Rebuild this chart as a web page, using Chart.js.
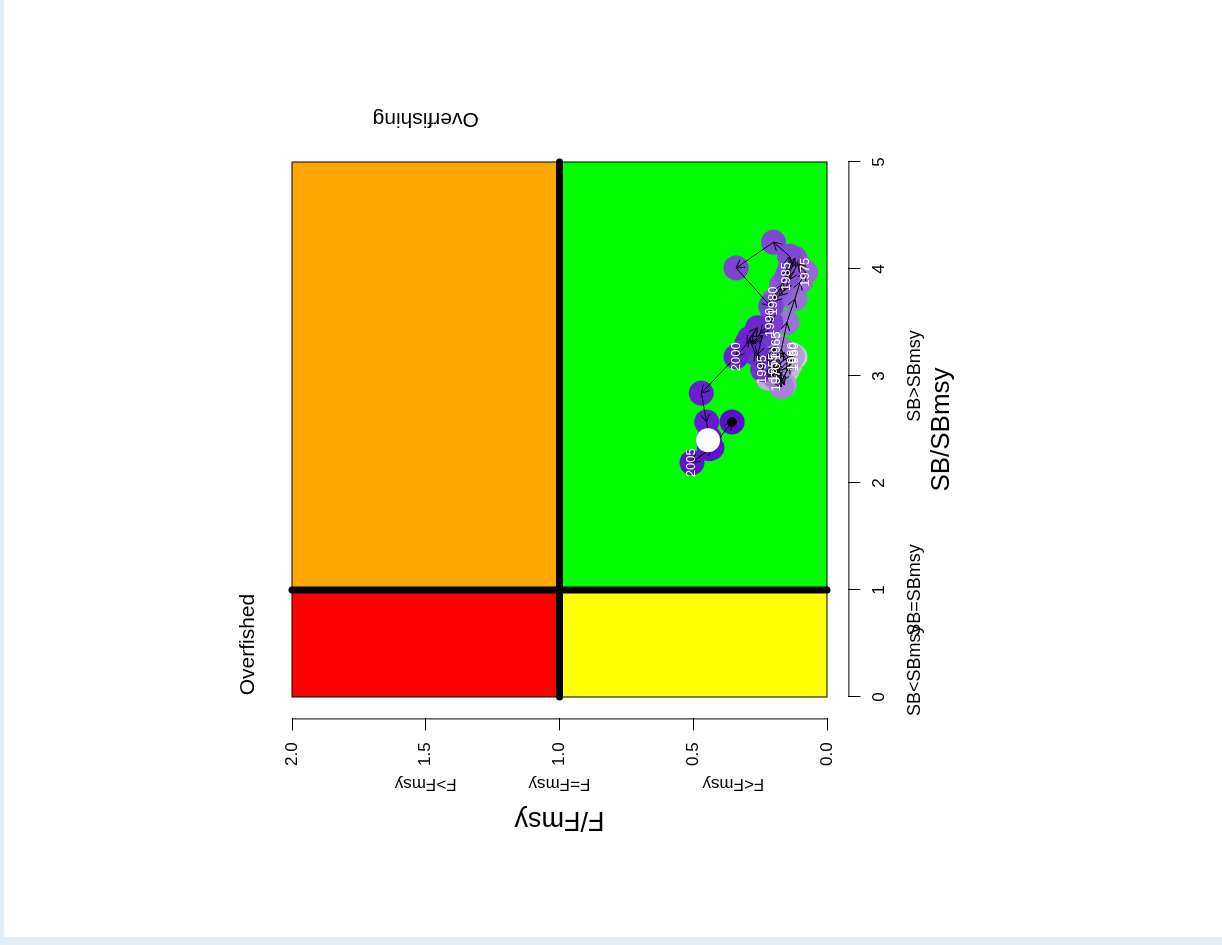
<!DOCTYPE html>
<html>
<head>
<meta charset="utf-8">
<script src="https://cdn.jsdelivr.net/npm/chart.js@4.4.0/dist/chart.umd.min.js"></script>
<style>
  body { margin: 0; background: #e2edf5; width: 1222px; height: 945px; overflow: hidden; }
  #card { position: absolute; left: 4px; top: 0; width: 1218px; height: 937px; background: #fff; }
  /* the whole R figure is shown turned a quarter turn to the left */
  #wrap { position: absolute; left: 180px; top: 60px; width: 820px; height: 820px; transform: rotate(-90deg); }
</style>
</head>
<body>
<div id="card"></div>
<div id="wrap"><canvas id="kobe" width="820" height="820"></canvas></div>
<script>
const years = [1950, 1951, 1952, 1953, 1954, 1955, 1956, 1957, 1958, 1959,
               1960, 1961, 1962, 1963, 1964, 1965, 1966, 1967, 1968, 1969,
               1970, 1971, 1972, 1973, 1974, 1975, 1976, 1977, 1978, 1979,
               1980, 1981, 1982, 1983, 1984, 1985, 1986, 1987, 1988, 1989,
               1990, 1991, 1992, 1993, 1994, 1995, 1996, 1997, 1998, 1999,
               2000, 2001, 2002, 2003, 2004, 2005, 2006, 2007];
const sbValues = [3.18, 3.05, 2.95, 3.10, 3.20, 3.08, 2.98, 3.12, 3.22, 3.15,
                  3.18, 3.05, 2.92, 3.10, 3.25, 3.28, 3.12, 3.00, 2.90, 3.05,
                  2.99, 3.25, 3.50, 3.72, 3.88, 3.97, 4.05, 3.90, 3.80, 3.75,
                  3.70, 3.85, 4.00, 4.10, 4.02, 3.93, 4.12, 4.25, 4.01, 3.65,
                  3.50, 3.40, 3.30, 3.38, 3.20, 3.06, 3.22, 3.35, 3.45, 3.30,
                  3.18, 2.84, 2.57, 2.42, 2.32, 2.19, 2.33, 2.57];
const fValues = [0.12, 0.15, 0.17, 0.14, 0.13, 0.20, 0.22, 0.19, 0.16, 0.14,
                 0.13, 0.18, 0.16, 0.21, 0.20, 0.19, 0.22, 0.20, 0.17, 0.18,
                 0.19, 0.17, 0.15, 0.12, 0.10, 0.08, 0.11, 0.14, 0.16, 0.18,
                 0.20, 0.17, 0.14, 0.12, 0.13, 0.15, 0.14, 0.20, 0.34, 0.21,
                 0.21, 0.25, 0.28, 0.24, 0.26, 0.24, 0.27, 0.29, 0.26, 0.30,
                 0.34, 0.47, 0.45, 0.44, 0.44, 0.505, 0.43, 0.355];
const currentSB = [2.40];
const currentF = [0.445];
const sbTicks = [0, 1, 2, 3, 4, 5];
const fTicks = [0, 0.5, 1, 1.5, 2];
const sbZoneLabels = ['SB<SBmsy', 'SB=SBmsy', 'SB>SBmsy'];
const sbZoneAt = [0.25, 1, 3];
const fZoneLabels = ['F<Fmsy', 'F=Fmsy', 'F>Fmsy'];
const fZoneAt = [0.35, 1, 1.5];

const FONT = 'Liberation Sans, Arial, Helvetica, sans-serif';

// light grey-lilac for the first years, deep violet for the last
function yearColour(i) {
    const t = i / (years.length - 1);
    const a = [212, 204, 220], b = [92, 16, 206];
    const c = a.map((v, k) => Math.round(v + (b[k] - v) * Math.pow(t, 0.8)));
    return 'rgb(' + c.join(',') + ')';
}

function arrow(ctx, x0, y0, x1, y1, len) {
    const a = Math.atan2(y1 - y0, x1 - x0);
    ctx.beginPath();
    ctx.moveTo(x0, y0);
    ctx.lineTo(x1, y1);
    ctx.moveTo(x1 - len * Math.cos(a - Math.PI / 6), y1 - len * Math.sin(a - Math.PI / 6));
    ctx.lineTo(x1, y1);
    ctx.lineTo(x1 - len * Math.cos(a + Math.PI / 6), y1 - len * Math.sin(a + Math.PI / 6));
    ctx.stroke();
}

function text(ctx, str, x, y, size, rot, colour) {
    ctx.save();
    ctx.translate(x, y);
    ctx.rotate(rot);
    ctx.font = size + 'px ' + FONT;
    ctx.fillStyle = colour || '#000';
    ctx.textAlign = 'center';
    ctx.textBaseline = 'middle';
    ctx.fillText(str, 0, 0);
    ctx.restore();
}

const kobePlugin = {
    id: 'kobe',
    beforeDatasetsDraw(chart) {
        const {ctx, scales: {x, y}} = chart;
        const px = v => x.getPixelForValue(v), py = v => y.getPixelForValue(v);
        const zones = [
            [0, 1, 0, 1, '#FFFF00'],
            [1, 5, 0, 1, '#00FF00'],
            [0, 1, 1, 2, '#FF0000'],
            [1, 5, 1, 2, '#FFA500']
        ];
        ctx.save();
        zones.forEach(z => {
            const l = px(z[0]), r = px(z[1]), t = py(z[3]), b = py(z[2]);
            ctx.fillStyle = z[4];
            ctx.fillRect(l, t, r - l, b - t);
            ctx.strokeStyle = '#000';
            ctx.lineWidth = 1;
            ctx.strokeRect(l, t, r - l, b - t);
        });
        // reference lines F = Fmsy and SB = SBmsy
        ctx.lineWidth = 7;
        ctx.lineCap = 'round';
        ctx.beginPath();
        ctx.moveTo(px(0), py(1));
        ctx.lineTo(px(5), py(1));
        ctx.moveTo(px(1), py(0));
        ctx.lineTo(px(1), py(2));
        ctx.stroke();
        ctx.restore();
    },
    afterDatasetDraw(chart, args) {
        if (args.index !== 2) return;
        const {ctx, scales: {x, y}} = chart;
        ctx.save();
        ctx.strokeStyle = '#000';
        ctx.lineWidth = 1;
        for (let i = 1; i < years.length; i++) {
            arrow(ctx, x.getPixelForValue(sbValues[i - 1]), y.getPixelForValue(fValues[i - 1]),
                  x.getPixelForValue(sbValues[i]), y.getPixelForValue(fValues[i]), 9);
        }
        ctx.restore();
    },
    afterDatasetsDraw(chart) {
        const {ctx, scales: {x, y}} = chart;
        years.forEach((yr, i) => {
            if (yr % 5 !== 0) return;
            text(ctx, String(yr), x.getPixelForValue(sbValues[i]), y.getPixelForValue(fValues[i]), 13, 0, '#fff');
        });
    },
    afterDraw(chart) {
        const {ctx, chartArea: area, scales: {x, y}} = chart;
        ctx.save();
        ctx.strokeStyle = '#000';
        ctx.lineWidth = 1;
        ctx.beginPath();
        ctx.moveTo(x.getPixelForValue(0), area.bottom + 0.5);
        ctx.lineTo(x.getPixelForValue(5), area.bottom + 0.5);
        ctx.moveTo(area.left - 0.5, y.getPixelForValue(0));
        ctx.lineTo(area.left - 0.5, y.getPixelForValue(2));
        ctx.stroke();
        ctx.restore();
        sbZoneLabels.forEach((s, i) => text(ctx, s, x.getPixelForValue(sbZoneAt[i]), 735, 18, 0));
        fZoneLabels.forEach((s, i) => text(ctx, s, 96, y.getPixelForValue(fZoneAt[i]), 17, -Math.PI / 2));
        text(ctx, 'Overfished', x.getPixelForValue(0.49), 68, 21, 0);
        text(ctx, 'Overfishing', 761, y.getPixelForValue(1.5), 21, -Math.PI / 2);
    }
};

const trajectory = years.map((yr, i) => ({x: sbValues[i], y: fValues[i]}));
const last = years.length - 1;

new Chart(document.getElementById('kobe'), {
    type: 'scatter',
    data: {
        datasets: [{
            data: [{x: sbValues[last], y: fValues[last]}],
            pointRadius: 5,
            pointBackgroundColor: '#000',
            pointBorderWidth: 0
        }, {
            data: [{x: currentSB[0], y: currentF[0]}],
            pointRadius: 12,
            pointBackgroundColor: '#fff',
            pointBorderWidth: 0
        }, {
            data: trajectory,
            pointRadius: 12.5,
            pointBackgroundColor: years.map((yr, i) => yearColour(i)),
            pointBorderWidth: 0
        }]
    },
    options: {
        responsive: false,
        animation: false,
        events: [],
        layout: { padding: { left: 0, top: 90.6, right: 80.6, bottom: 0 } },
        plugins: { legend: { display: false }, tooltip: { enabled: false } },
        scales: {
            x: {
                type: 'linear',
                position: 'bottom',
                min: -0.2,
                max: 5.2,
                afterBuildTicks: s => { s.ticks = sbTicks.map(v => ({value: v})); },
                afterFit: s => { s.height = 151.6; },
                ticks: {
                    callback: v => String(v),
                    color: '#000',
                    font: { family: FONT, size: 17 },
                    padding: 9,
                    maxRotation: 0,
                    autoSkip: false
                },
                grid: { drawOnChartArea: false, tickLength: 12, color: '#000' },
                border: { display: false },
                title: {
                    display: true,
                    text: 'SB/SBmsy',
                    color: '#000',
                    font: { family: FONT, size: 26 },
                    padding: { top: 0, bottom: 42.4 }
                }
            },
            y: {
                type: 'linear',
                position: 'left',
                min: -0.08,
                max: 2.08,
                afterBuildTicks: s => { s.ticks = fTicks.map(v => ({value: v})); },
                afterFit: s => { s.width = 161.6; },
                ticks: {
                    callback: v => v.toFixed(1),
                    color: '#000',
                    font: { family: FONT, size: 17 },
                    padding: 12,
                    autoSkip: false
                },
                grid: { drawOnChartArea: false, tickLength: 12, color: '#000' },
                border: { display: false },
                title: {
                    display: true,
                    text: 'F/Fmsy',
                    color: '#000',
                    font: { family: FONT, size: 27 },
                    padding: { top: 44.4, bottom: 0 }
                }
            }
        }
    },
    plugins: [kobePlugin]
});
</script>
</body>
</html>
